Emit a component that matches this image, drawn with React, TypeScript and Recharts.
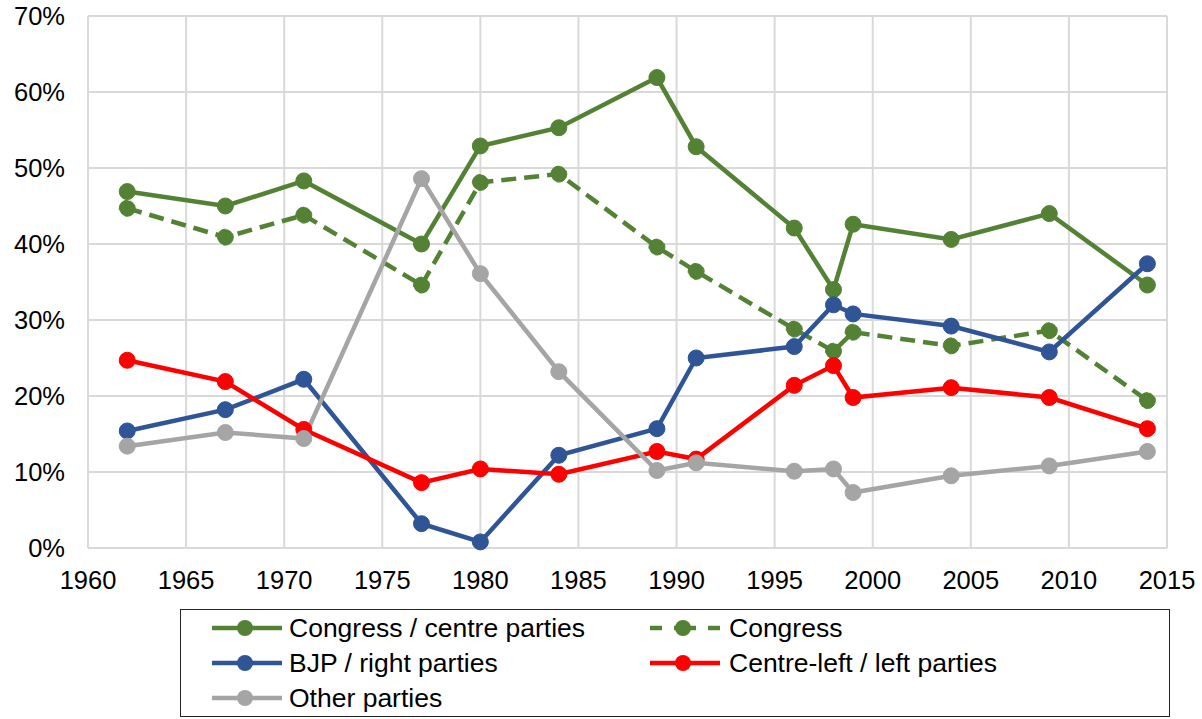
import { CartesianGrid, Line, LineChart, XAxis, YAxis } from "recharts";

const years = [1962, 1967, 1971, 1977, 1980, 1984, 1989, 1991, 1996, 1998, 1999, 2004, 2009, 2014];
const congressCentre = [46.9, 45.0, 48.3, 40.0, 52.9, 55.3, 61.9, 52.8, 42.1, 34.0, 42.6, 40.6, 44.0, 34.6];
const congress = [44.7, 40.9, 43.8, 34.6, 48.1, 49.2, 39.6, 36.4, 28.8, 25.9, 28.4, 26.6, 28.6, 19.4];
const bjpRight = [15.4, 18.2, 22.2, 3.2, 0.8, 12.2, 15.7, 25.0, 26.5, 32.0, 30.8, 29.2, 25.8, 37.4];
const centreLeft = [24.7, 21.9, 15.6, 8.6, 10.4, 9.7, 12.7, 11.7, 21.4, 24.0, 19.8, 21.1, 19.8, 15.7];
const others = [13.4, 15.2, 14.4, 48.6, 36.1, 23.2, 10.2, 11.2, 10.1, 10.4, 7.3, 9.5, 10.8, 12.7];

const xTicks = [1960, 1965, 1970, 1975, 1980, 1985, 1990, 1995, 2000, 2005, 2010, 2015];
const yTicks = [0, 10, 20, 30, 40, 50, 60, 70];

const GREEN = "#548235";
const BLUE = "#2F5597";
const RED = "#FF0000";
const GREY = "#A5A5A5";
const FONT = "'Liberation Sans', Arial, sans-serif";

const data = years.map((year, i) => ({
  year,
  congressCentre: congressCentre[i],
  congress: congress[i],
  bjpRight: bjpRight[i],
  centreLeft: centreLeft[i],
  others: others[i],
}));

const legendItems = [
  { name: "Congress / centre parties", color: GREEN, dashed: false },
  { name: "Congress", color: GREEN, dashed: true },
  { name: "BJP / right parties", color: BLUE, dashed: false },
  { name: "Centre-left / left parties", color: RED, dashed: false },
  { name: "Other parties", color: GREY, dashed: false },
];

const Sample = ({ color, dashed }: { color: string; dashed: boolean }) => (
  <svg width={72} height={20} style={{ display: "block" }}>
    {dashed ? (
      <>
        <line x1={0} y1={10} x2={12} y2={10} stroke={color} strokeWidth={4.5} />
        <line x1={24} y1={10} x2={46} y2={10} stroke={color} strokeWidth={4.5} />
        <line x1={58} y1={10} x2={70} y2={10} stroke={color} strokeWidth={4.5} />
      </>
    ) : (
      <line x1={0} y1={10} x2={70} y2={10} stroke={color} strokeWidth={4.5} />
    )}
    <circle cx={33} cy={10} r={8} fill={color} />
  </svg>
);

const ChartLegend = () => (
  <div
    style={{
      position: "absolute",
      left: 180,
      top: 609,
      width: 990,
      height: 108,
      border: "1px solid #222",
      boxSizing: "border-box",
      fontFamily: FONT,
      fontSize: 26.5,
      color: "#000",
    }}
  >
    {legendItems.map((item, i) => {
      const col = i % 2;
      const row = Math.floor(i / 2);
      return (
        <div
          key={item.name}
          style={{
            position: "absolute",
            left: col === 0 ? 31 : 469,
            top: 3 + row * 35,
            display: "flex",
            alignItems: "center",
            height: 30,
            whiteSpace: "nowrap",
          }}
        >
          <Sample color={item.color} dashed={item.dashed} />
          <span style={{ marginLeft: col === 0 ? 5 : 7 }}>{item.name}</span>
        </div>
      );
    })}
  </div>
);

const dot = (color: string) => ({ r: 8, fill: color, stroke: color, strokeWidth: 1 });

export default function App() {
  return (
    <div style={{ position: "relative", width: 1202, height: 719 }}>
      <style>{`body{margin:0}`}</style>
      <LineChart
        width={1202}
        height={719}
        data={data}
        margin={{ top: 16, right: 35, left: 0, bottom: 121 }}
        style={{ fontFamily: FONT }}
      >
        <CartesianGrid stroke="#D9D9D9" strokeWidth={2} horizontalValues={yTicks} verticalValues={xTicks} />
        <XAxis
          dataKey="year"
          type="number"
          domain={[1960, 2015]}
          ticks={xTicks}
          allowDataOverflow
          axisLine={{ stroke: "#D9D9D9", strokeWidth: 2 }}
          tickLine={false}
          tickSize={21}
          tickMargin={2}
          height={50}
          tick={{ fontSize: 25.5, fill: "#000", fontFamily: FONT }}
        />
        <YAxis
          type="number"
          domain={[0, 70]}
          ticks={yTicks}
          width={88}
          axisLine={{ stroke: "#D9D9D9", strokeWidth: 2 }}
          tickLine={false}
          tickSize={21}
          tickMargin={2}
          tickFormatter={(v: number) => `${v}%`}
          tick={{ fontSize: 25.5, fill: "#000", fontFamily: FONT }}
        />
        <Line
          dataKey="congressCentre"
          name="Congress / centre parties"
          stroke={GREEN}
          strokeWidth={4.5}
          dot={dot(GREEN)}
          activeDot={false}
          isAnimationActive={false}
        />
        <Line
          dataKey="congress"
          name="Congress"
          stroke={GREEN}
          strokeWidth={4.5}
          strokeDasharray="15 8"
          dot={dot(GREEN)}
          activeDot={false}
          isAnimationActive={false}
        />
        <Line
          dataKey="bjpRight"
          name="BJP / right parties"
          stroke={BLUE}
          strokeWidth={4.5}
          dot={dot(BLUE)}
          activeDot={false}
          isAnimationActive={false}
        />
        <Line
          dataKey="centreLeft"
          name="Centre-left / left parties"
          stroke={RED}
          strokeWidth={4.5}
          dot={dot(RED)}
          activeDot={false}
          isAnimationActive={false}
        />
        <Line
          dataKey="others"
          name="Other parties"
          stroke={GREY}
          strokeWidth={4.5}
          dot={dot(GREY)}
          activeDot={false}
          isAnimationActive={false}
        />
      </LineChart>
      <ChartLegend />
    </div>
  );
}
